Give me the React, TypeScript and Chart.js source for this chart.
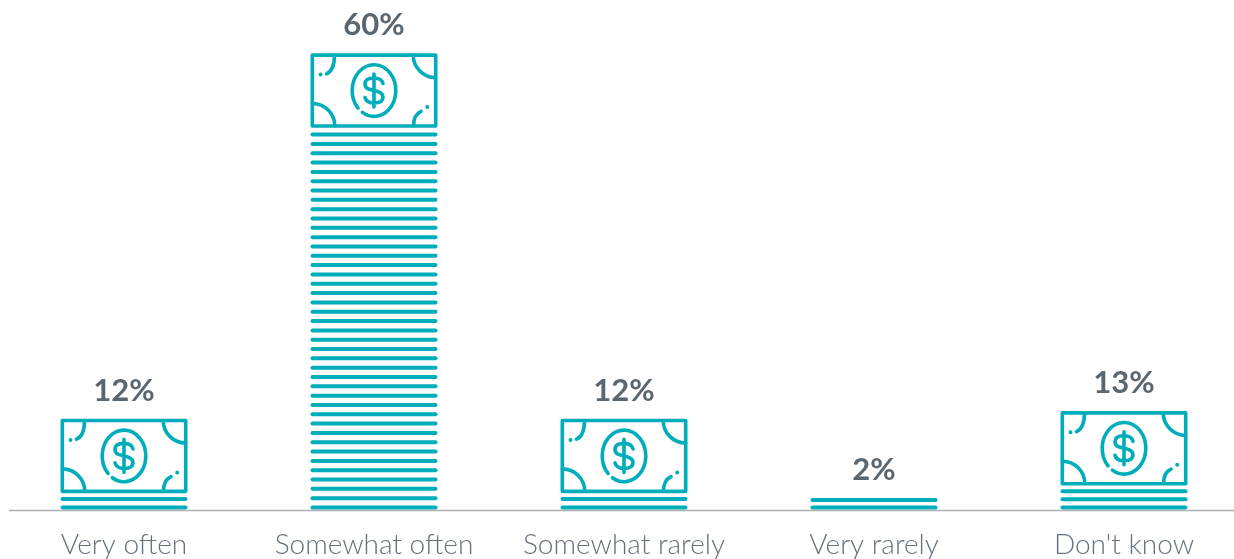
import React, { useEffect, useRef } from "react";
import { Chart, registerables } from "chart.js";

Chart.register(...registerables);

const categories = ["Very often", "Somewhat often", "Somewhat rarely", "Very rarely", "Don't know"];
const shares = [12, 60, 12, 2, 13];
const stripeCounts = [2, 41, 2, 2, 3];
const hasNote = [true, true, true, false, true];

const TEAL = "#00adbb";
const SLATE = "#5b6770";
const FONT = "Lato, 'Noto Sans', sans-serif";

function drawNote(ctx: CanvasRenderingContext2D, left: number, top: number, w: number, h: number) {
  const cx = left + w / 2;
  const cy = top + h / 2;
  const r = left + w;
  const b = top + h;
  ctx.save();
  ctx.strokeStyle = TEAL;
  ctx.fillStyle = TEAL;
  ctx.lineWidth = 3.6;
  ctx.lineCap = "round";
  ctx.lineJoin = "round";
  ctx.strokeRect(left + 1.8, top + 1.8, w - 3.6, h - 3.6);

  // small corner curves
  ctx.beginPath();
  ctx.moveTo(left + 24, top + 2);
  ctx.quadraticCurveTo(left + 24, top + 17, left + 16, top + 20.5);
  ctx.moveTo(r - 24, b - 2);
  ctx.quadraticCurveTo(r - 24, b - 13, r - 16.5, b - 16.5);
  ctx.stroke();
  // large corner arcs
  ctx.beginPath();
  ctx.arc(r - 1.8, top + 1.8, 22.5, Math.PI / 2, Math.PI);
  ctx.stroke();
  ctx.beginPath();
  ctx.arc(left + 1.8, b - 1.8, 22.5, -Math.PI / 2, 0);
  ctx.stroke();
  // dots
  ctx.beginPath();
  ctx.arc(left + 10, top + 21.3, 2, 0, Math.PI * 2);
  ctx.arc(r - 10.3, b - 20.7, 2, 0, Math.PI * 2);
  ctx.fill();

  // coin
  const gapAt = 0.72 * Math.PI;
  ctx.beginPath();
  ctx.ellipse(cx, cy, 21.8, 25.8, 0, gapAt + 0.13, gapAt + 2 * Math.PI - 0.13);
  ctx.stroke();

  // dollar sign
  ctx.beginPath();
  ctx.moveTo(cx + 9, cy - 7);
  ctx.bezierCurveTo(cx + 8, cy - 11, cx + 4, cy - 12.5, cx, cy - 12.5);
  ctx.bezierCurveTo(cx - 6, cy - 12.5, cx - 9, cy - 10, cx - 9, cy - 6.5);
  ctx.bezierCurveTo(cx - 9, cy - 2, cx - 5, cy - 1, cx, cy);
  ctx.bezierCurveTo(cx + 5, cy + 1, cx + 9, cy + 2.5, cx + 9, cy + 6.5);
  ctx.bezierCurveTo(cx + 9, cy + 10, cx + 6, cy + 12.5, cx, cy + 12.5);
  ctx.bezierCurveTo(cx - 4, cy + 12.5, cx - 8, cy + 11, cx - 9, cy + 7);
  ctx.moveTo(cx, cy - 16.5);
  ctx.lineTo(cx, cy + 16.5);
  ctx.stroke();
  ctx.restore();
}

const stackPlugin = {
  id: "stack",
  afterDatasetsDraw(chart: any) {
    const ctx: CanvasRenderingContext2D = chart.ctx;
    const meta = chart.getDatasetMeta(0);
    const zero = chart.scales.y.getPixelForValue(0);
    meta.data.forEach((bar: any, i: number) => {
      const left = bar.x - bar.width / 2;
      const noteH = hasNote[i] ? 74.5 : 0;
      const stackTop = bar.y + noteH;
      const n = stripeCounts[i];
      const pitch = (zero - stackTop) / n;
      ctx.save();
      ctx.beginPath();
      ctx.rect(0, 0, chart.width, zero);
      ctx.clip();
      ctx.strokeStyle = TEAL;
      ctx.lineWidth = 4;
      ctx.lineCap = "round";
      let topMark = zero;
      for (let k = 0; k < n; k++) {
        const y = zero - 2.5 - k * pitch;
        ctx.beginPath();
        ctx.moveTo(left + 2, y);
        ctx.lineTo(left + bar.width - 2, y);
        ctx.stroke();
        topMark = y - 2;
      }
      ctx.restore();
      if (hasNote[i]) {
        drawNote(ctx, left, bar.y, bar.width, noteH);
        topMark = bar.y;
      }
      ctx.save();
      ctx.fillStyle = SLATE;
      ctx.font = `700 31px ${FONT}`;
      ctx.textAlign = "center";
      ctx.textBaseline = "alphabetic";
      ctx.fillText(`${shares[i]}%`, bar.x, topMark - 18);
      ctx.restore();
    });
    ctx.save();
    ctx.strokeStyle = "#a9aeb3";
    ctx.lineWidth = 1.5;
    ctx.beginPath();
    ctx.moveTo(10, zero + 0.6);
    ctx.lineTo(chart.width, zero + 0.6);
    ctx.stroke();
    ctx.restore();
  },
};

export default function App() {
  const ref = useRef<HTMLCanvasElement>(null);
  useEffect(() => {
    document.body.style.margin = "0";
    document.body.style.overflow = "hidden";
    const chart = new Chart(ref.current!, {
      type: "bar",
      data: {
        labels: categories,
        datasets: [
          {
            data: shares,
            backgroundColor: "rgba(0,0,0,0)",
            borderWidth: 0,
            categoryPercentage: 1,
            barPercentage: 0.508,
          },
        ],
      },
      options: {
        animation: false,
        responsive: false,
        layout: { padding: 0 },
        plugins: { legend: { display: false }, tooltip: { enabled: false } },
        scales: {
          x: {
            grid: { display: false },
            border: { display: false },
            ticks: {
              color: "#66717b",
              font: { family: FONT, size: 28, weight: "300" },
              padding: 10,
              maxRotation: 0,
              autoSkip: false,
            },
            afterFit: (s: any) => {
              s.height = 49;
            },
          },
          y: {
            display: false,
            min: 0,
            max: 67,
          },
        },
      },
      plugins: [stackPlugin],
    });
    return () => chart.destroy();
  }, []);
  return (
    <div style={{ width: 1234, height: 559, overflow: "hidden", position: "relative" }}>
      <canvas ref={ref} width={1250} height={559} style={{ position: "absolute", left: -1, top: 0, display: "block" }} />
    </div>
  );
}
